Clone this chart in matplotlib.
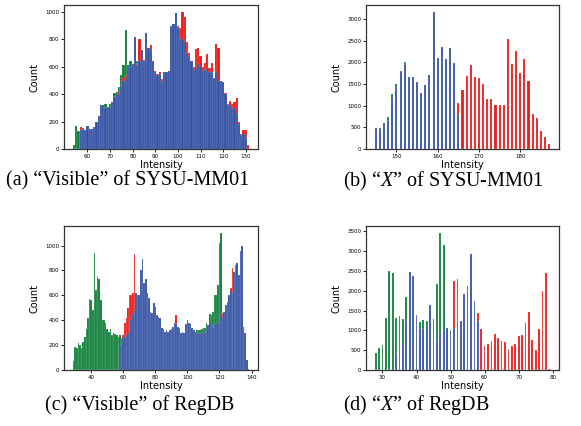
import numpy as np
import matplotlib
matplotlib.use("Agg")
import matplotlib.pyplot as plt

plt.rcParams['mathtext.fontset'] = 'custom'
plt.rcParams['mathtext.rm'] = 'Liberation Serif'
plt.rcParams['mathtext.it'] = 'Liberation Serif:italic'

GREEN = '#0f7f3a'
RED = '#ee1a1a'
BLUE = '#3553a3'

# (a) "Visible" of SYSU-MM01, intensities 54..131
x_a = np.arange(54, 132)
green_a = [30, 165, 135, 150, 145, 130, 150, 140, 145, 150,
           180, 220, 300, 310, 330, 310, 330, 340, 410, 420,
           450, 540, 610, 870, 610, 640, 600, 620, 640, 600,
           700, 620, 640, 700, 680, 600, 520, 500, 520, 480,
           520, 520, 540, 600, 650, 700, 780, 880, 900, 800,
           700, 640, 620, 600, 720, 700, 640, 590, 610, 640,
           540, 530, 480, 500, 460, 420, 420, 340, 300, 300,
           290, 340, 280, 180, 100, 60, 30, 0]
red_a = [0, 0, 0, 160, 155, 140, 150, 140, 145, 155,
         190, 230, 310, 310, 300, 300, 300, 330, 380, 390,
         420, 460, 520, 540, 600, 600, 620, 800, 620, 800,
         700, 650, 830, 720, 760, 640, 570, 550, 560, 510,
         550, 550, 560, 890, 900, 980, 900, 880, 1000, 960,
         780, 700, 640, 600, 730, 740, 680, 600, 630, 690,
         590, 630, 520, 770, 740, 500, 480, 410, 330, 350,
         330, 340, 370, 200, 110, 140, 140, 30]
blue_a = [0, 0, 0, 140, 150, 140, 165, 150, 150, 160,
          200, 240, 320, 320, 300, 310, 310, 340, 380, 400,
          400, 460, 500, 520, 610, 600, 620, 820, 610, 640,
          720, 640, 850, 740, 720, 640, 560, 540, 550, 500,
          560, 560, 570, 900, 910, 990, 880, 800, 800, 780,
          700, 680, 640, 580, 600, 620, 600, 570, 580, 590,
          560, 560, 520, 560, 500, 500, 490, 400, 320, 320,
          300, 300, 260, 180, 100, 110, 80, 0]

# (b) "X" of SYSU-MM01, intensities 145..187
x_b = np.arange(145, 188)
green_b = [0, 480, 560, 730, 1270, 1490, 1810, 2010, 1650, 1650,
           1500, 1280, 1450, 1700, 3100, 2050, 2300, 2050, 2300, 1950,
           980, 950, 340, 30, 0, 0, 0, 0, 0, 0,
           0, 0, 0, 0, 0, 0, 0, 0, 0, 0,
           0, 0, 0]
red_b = [0, 0, 0, 0, 0, 0, 0, 0, 0, 0,
         0, 0, 0, 0, 0, 200, 450, 480, 500, 700,
         1060, 1360, 1680, 1940, 1660, 1630, 1490, 1150, 1160, 1010,
         1020, 1010, 2540, 1960, 2270, 1750, 2070, 1560, 820, 710,
         410, 290, 110]
blue_b = [490, 450, 590, 640, 1150, 1400, 1780, 1950, 1670, 1670,
          1540, 1290, 1470, 1710, 3160, 2100, 2360, 2080, 2340, 1990,
          820, 0, 0, 0, 0, 0, 0, 0, 0, 0,
          0, 0, 0, 0, 0, 0, 0, 0, 0, 0,
          0, 0, 0]

# (c) "Visible" of RegDB, intensities 29..138
x_c = np.arange(29, 139)
green_c = [70, 190, 180, 220, 200, 180, 230, 270, 330, 420,
           570, 560, 480, 940, 640, 750, 730, 560, 400, 400,
           380, 330, 310, 330, 280, 300, 290, 280, 270, 280,
           260, 220, 200, 200, 190, 200, 210, 220, 230, 240,
           240, 250, 250, 260, 260, 260, 260, 260, 260, 260,
           260, 260, 260, 260, 270, 270, 270, 270, 270, 270,
           270, 280, 280, 280, 290, 290, 290, 290, 300, 300,
           300, 300, 300, 300, 300, 310, 310, 320, 320, 320,
           330, 340, 340, 380, 330, 450, 440, 470, 600, 600,
           680, 1020, 1100, 400, 380, 380, 380, 380, 380, 380,
           380, 380, 380, 380, 380, 300, 200, 100, 30, 0]
red_c = [0] * 29 + [
         200, 210, 280, 380, 420, 500, 600, 600, 620, 930,
         620, 560, 580, 780, 870, 690, 720, 610, 570, 460,
         460, 530, 500, 430, 420, 410, 330, 320, 300, 310,
         300, 310, 320, 340, 380, 440, 340, 340, 300, 300,
         300, 360, 390, 370, 360, 330, 310, 300, 290, 290,
         280, 290, 310, 290, 320, 350, 370, 350, 340, 360,
         370, 370, 360, 440, 460, 460, 510, 540, 590, 660,
         820, 780, 840, 740, 740, 940, 980, 340, 290, 70,
         10]
blue_c = [0] * 29 + [
          200, 220, 260, 270, 280, 300, 320, 400, 450, 480,
          620, 600, 600, 800, 890, 700, 730, 620, 580, 470,
          460, 540, 510, 440, 430, 420, 340, 330, 310, 320,
          310, 320, 330, 350, 380, 370, 350, 330, 300, 310,
          300, 370, 400, 380, 370, 340, 320, 310, 300, 300,
          290, 300, 320, 300, 330, 360, 380, 360, 350, 370,
          380, 380, 370, 450, 420, 470, 520, 550, 600, 640,
          620, 790, 780, 860, 760, 960, 1000, 350, 300, 80,
          10]

# (d) "X" of RegDB, intensities 28..79
x_d = np.arange(28, 80)
green_d = [420, 550, 630, 1310, 2500, 2440, 1320, 1360, 1300, 1850,
           1380, 1130, 1390, 1220, 1270, 1250, 1150, 1290, 2180, 3450,
           3140] + [0] * 31
red_d = [0] * 18 + [
         500, 400, 400, 400, 1000, 2240, 2300, 1220, 1000, 700,
         900, 900, 1430, 1030, 620, 650, 730, 900, 820, 730,
         700, 540, 600, 650, 860, 890, 1190, 1460, 770, 510,
         1030, 2000, 2450, 20]
blue_d = [0] * 6 + [
          400, 550, 650, 1250, 2460, 2380, 1400, 1030, 1030, 1100,
          1650, 1050, 750, 940, 1000, 1060, 1010, 1060, 900, 1250,
          1920, 2130, 2920, 1750, 1240] + [0] * 21

captions = ['(a) \u201cVisible\u201d of SYSU-MM01',
            '(b) \u201c$X$\u201d of SYSU-MM01',
            '(c) \u201cVisible\u201d of RegDB',
            '(d) \u201c$X$\u201d of RegDB']


def draw_panel(ax, x, green, red, blue, width, lw):
    for vals, col in [(green, GREEN), (red, RED), (blue, BLUE)]:
        ax.bar(x, vals, width=width, color=col,
               edgecolor=(1, 1, 1, 0.45), linewidth=lw)
    ax.set_xlabel('Intensity', fontsize=7, labelpad=0.5)
    ax.set_ylabel('Count', fontsize=7, labelpad=4)
    ax.tick_params(labelsize=4, length=2, width=0.6, pad=1.5)
    for s in ax.spines.values():
        s.set_color('#333333')
        s.set_linewidth(0.9)


fig = plt.figure(figsize=(5.81, 4.26), dpi=100)

ax_a = fig.add_axes([0.110, 0.650, 0.334, 0.338])
ax_b = fig.add_axes([0.630, 0.650, 0.332, 0.338])
ax_c = fig.add_axes([0.110, 0.131, 0.334, 0.338])
ax_d = fig.add_axes([0.630, 0.131, 0.332, 0.338])

draw_panel(ax_a, x_a, green_a, red_a, blue_a, 1.0, 0.2)
draw_panel(ax_b, x_b, green_b, red_b, blue_b, 0.5, 0.3)
draw_panel(ax_c, x_c, green_c, red_c, blue_c, 1.0, 0.2)
draw_panel(ax_d, x_d, green_d, red_d, blue_d, 0.5, 0.3)

ax_a.set_xticks([60, 70, 80, 90, 100, 110, 120, 130])
ax_b.set_xticks([150, 160, 170, 180])
ax_c.set_xticks([40, 60, 80, 100, 120, 140])
ax_d.set_xticks([30, 40, 50, 60, 70, 80])

cap_pos = [(0.219, 0.575), (0.763, 0.575), (0.241, 0.049), (0.716, 0.049)]
for (cx, cy), txt in zip(cap_pos, captions):
    fig.text(cx, cy, txt, ha='center', va='center',
             family='Liberation Serif', fontsize=14.5)

fig.savefig('out.png', dpi=100)
